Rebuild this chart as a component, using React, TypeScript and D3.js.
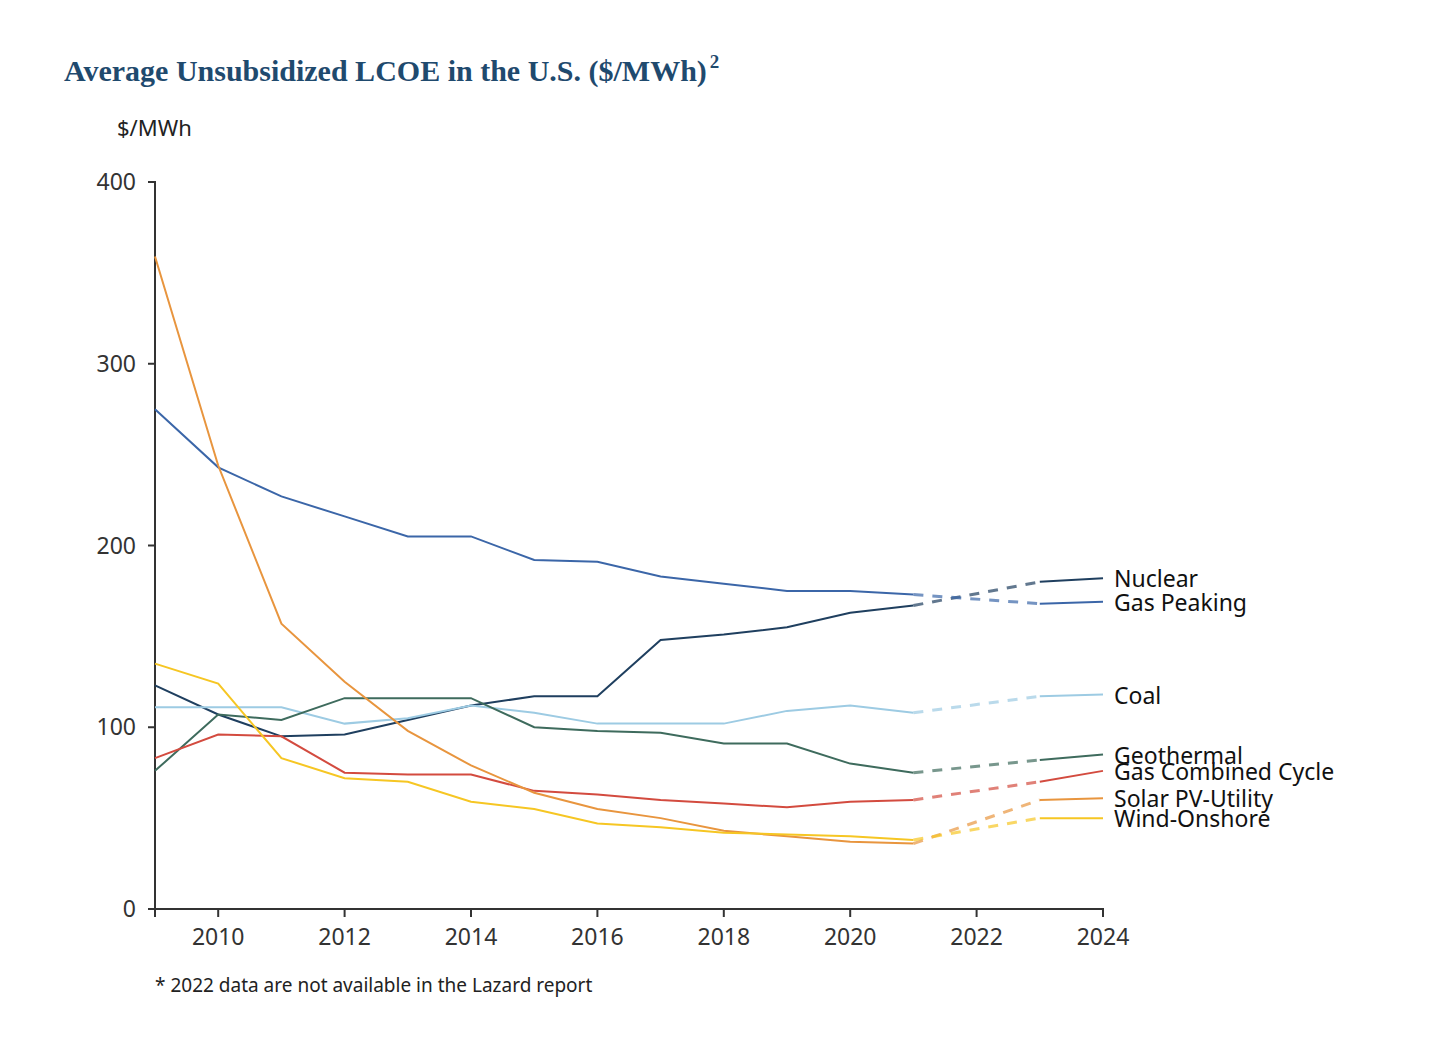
import React from 'react';
import * as d3 from 'd3';

const years = [2009, 2010, 2011, 2012, 2013, 2014, 2015, 2016, 2017, 2018, 2019, 2020, 2021, 2023, 2024];
const gapStart = 2021;
const gapEnd = 2023;

const nuclear = [123, 107, 95, 96, 104, 112, 117, 117, 148, 151, 155, 163, 167, 180, 182];
const gasPeaking = [275, 243, 227, 216, 205, 205, 192, 191, 183, 179, 175, 175, 173, 168, 169];
const coal = [111, 111, 111, 102, 105, 112, 108, 102, 102, 102, 109, 112, 108, 117, 118];
const geothermal = [76, 107, 104, 116, 116, 116, 100, 98, 97, 91, 91, 80, 75, 82, 85];
const gasCombined = [83, 96, 95, 75, 74, 74, 65, 63, 60, 58, 56, 59, 60, 70, 76];
const solar = [359, 244, 157, 125, 98, 79, 64, 55, 50, 43, 40, 37, 36, 60, 61];
const wind = [135, 124, 83, 72, 70, 59, 55, 47, 45, 42, 41, 40, 38, 50, 50];

const seriesNames = ['Nuclear', 'Gas Peaking', 'Coal', 'Geothermal', 'Gas Combined Cycle', 'Solar PV-Utility', 'Wind-Onshore'];
const seriesValues = [nuclear, gasPeaking, coal, geothermal, gasCombined, solar, wind];
const seriesColors = ['#1f3f5f', '#3b66a8', '#9dcbe3', '#3e6b5d', '#d34b3f', '#e8953e', '#f6c623'];
const labelOffsets = [1, 1, 1, 1, 1, 1, 1];

const xTicks = [2010, 2012, 2014, 2016, 2018, 2020, 2022, 2024];
const yTicks = [0, 100, 200, 300, 400];

export default function App() {
  const width = 1432;
  const height = 1024;
  const x = d3.scaleLinear().domain([2009, 2024]).range([147, 1095]);
  const y = d3.scaleLinear().domain([0, 400]).range([901, 174]);
  const line = d3.line<[number, number]>().x(d => x(d[0])).y(d => y(d[1]));
  const font = "'Noto Sans', 'Open Sans', sans-serif";
  const x0 = x.range()[0];

  return (
    <svg width={width} height={height} style={{ display: 'block' }}>
      <text x={56} y={73} fontFamily="'Liberation Serif', serif" fontWeight="bold" fontSize={30} fill="#1f4a6e">
        Average Unsubsidized LCOE in the U.S. ($/MWh)
        <tspan dx={3} dy={-13} fontSize={19}>2</tspan>
      </text>
      <text x={109} y={128} fontFamily={font} fontSize={22} fill="#222">$/MWh</text>

      {/* y axis */}
      <path d={`M${x0 - 7},${y(400)}H${x0}V${y(0)}H${x0 - 7}`} fill="none" stroke="#333" strokeWidth={2} />
      {yTicks.map(t => (
        <g key={t}>
          <line x1={x0 - 7} x2={x0} y1={y(t)} y2={y(t)} stroke="#333" strokeWidth={2} />
          <text x={x0 - 19} y={y(t)} dy="0.35em" textAnchor="end" fontFamily={font} fontSize={23} fill="#333">{t}</text>
        </g>
      ))}

      {/* x axis */}
      <path d={`M${x(2009)},${y(0) + 8}V${y(0)}H${x(2024)}V${y(0) + 8}`} fill="none" stroke="#333" strokeWidth={2} />
      {xTicks.map(t => (
        <g key={t}>
          <line x1={x(t)} x2={x(t)} y1={y(0)} y2={y(0) + 8} stroke="#333" strokeWidth={2} />
          <text x={x(t)} y={y(0) + 36} textAnchor="middle" fontFamily={font} fontSize={23} fill="#333">{t}</text>
        </g>
      ))}

      {seriesValues.map((vals, i) => {
        const pts = years.map((yr, j) => [yr, vals[j]] as [number, number]);
        const before = pts.filter(p => p[0] <= gapStart);
        const after = pts.filter(p => p[0] >= gapEnd);
        const bridge = [before[before.length - 1], after[0]];
        const last = pts[pts.length - 1];
        return (
          <g key={seriesNames[i]}>
            <path d={line(before) || ''} fill="none" stroke={seriesColors[i]} strokeWidth={2} />
            <path d={line(bridge) || ''} fill="none" stroke={seriesColors[i]} strokeWidth={3} strokeDasharray="10,9" opacity={0.7} />
            <path d={line(after) || ''} fill="none" stroke={seriesColors[i]} strokeWidth={2} />
            <text x={x(last[0]) + 11} y={y(last[1]) + labelOffsets[i]} dy="0.35em" fontFamily={font} fontSize={23} fill="#111">
              {seriesNames[i]}
            </text>
          </g>
        );
      })}

      <text x={147} y={984} fontFamily={font} fontSize={19} fill="#222">* 2022 data are not available in the Lazard report</text>
    </svg>
  );
}
